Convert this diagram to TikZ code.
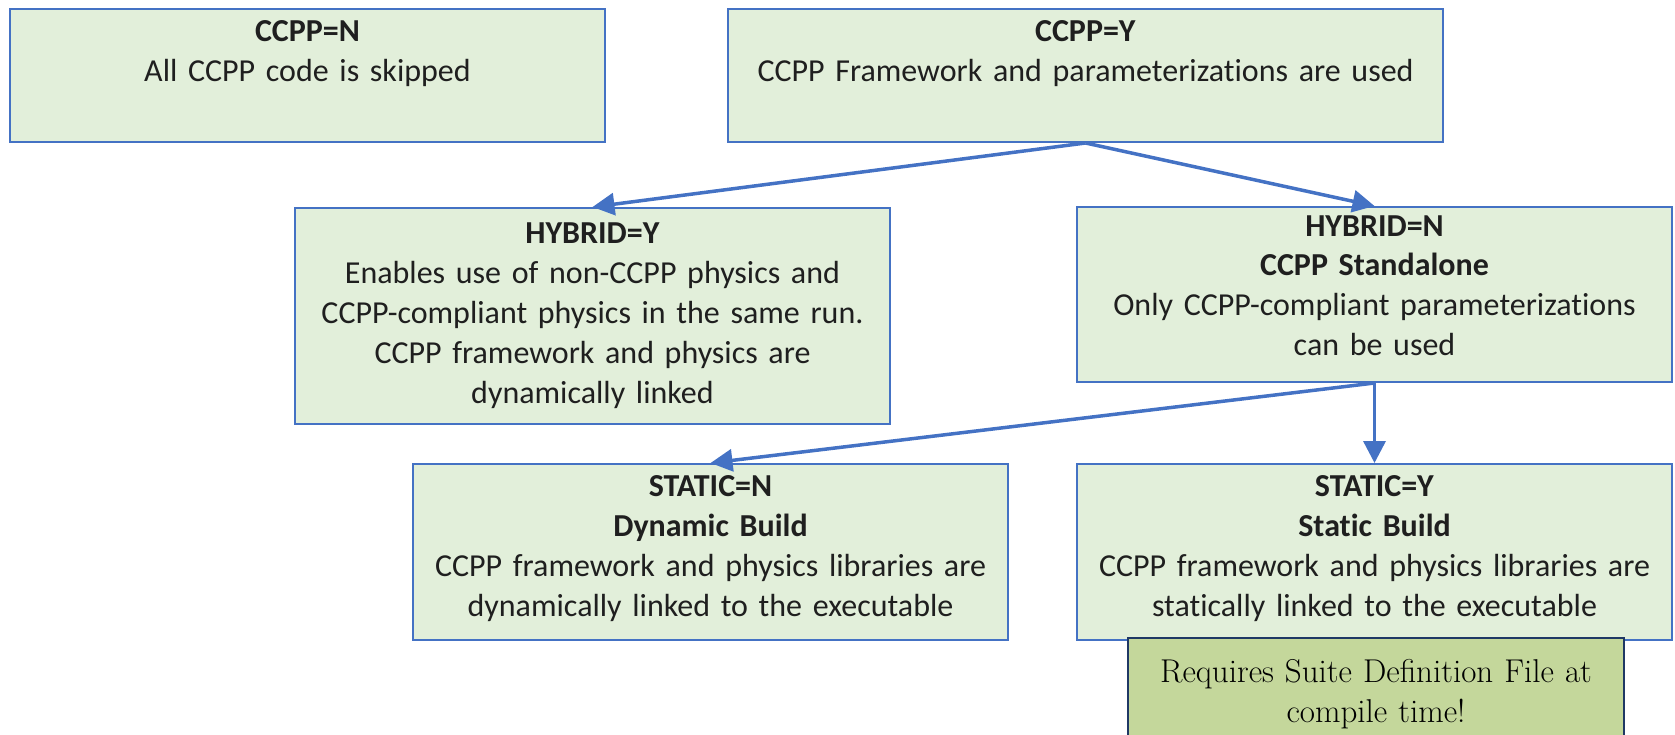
\documentclass[tikz,border=0pt]{standalone}
\usepackage{fontspec}
\usepackage{tikz}
\usetikzlibrary{arrows.meta}
\usepackage{xcolor}

\newfontfamily\boxfont[Ligatures=NoCommon]{Carlito}
\definecolor{boxgreen}{HTML}{E2EFDA}
\definecolor{boxblue}{HTML}{4472C4}
\definecolor{notegreen}{HTML}{C4D79B}
\definecolor{notenavy}{HTML}{1F3864}

% top-aligned lines inside a box of fixed height
\newcommand{\boxtext}[3][33pt]{\parbox[c][#2][t]{\linewidth}{\centering\rule{0pt}{#1}#3}}

\begin{document}
\begin{tikzpicture}[
  x=1pt, y=-1pt,
  arr/.style={-{Triangle[length=22pt, width=22pt]}, line width=3.5pt, draw=boxblue},
  optbox/.style={draw=boxblue, fill=boxgreen, line width=2pt, inner sep=0pt,
    font=\boxfont\fontsize{32}{40}\selectfont, text=black!88},
  notebox/.style={draw=notenavy, fill=notegreen, line width=2.5pt, inner sep=0pt,
    font=\fontsize{33}{40}\selectfont, text=black}
]
\useasboundingbox (0,0) rectangle (1675,735);

% Top row
\node[optbox, text width=595pt, minimum height=133pt] (ccppN) at (307.5,75.5)
  {\boxtext{133pt}{\textbf{CCPP=N}\\All CCPP code is skipped}};
\node[optbox, text width=715pt, minimum height=133pt] (ccppY) at (1085.5,75.5)
  {\boxtext{133pt}{\textbf{CCPP=Y}\\CCPP Framework and parameterizations are used}};

% Second row
\node[optbox, text width=595pt, minimum height=216pt] (hybY) at (592.5,316)
  {\boxtext[35pt]{216pt}{\textbf{HYBRID=Y}\\Enables use of non-CCPP physics and\\CCPP-compliant physics in the same run.\\CCPP framework and physics are\\dynamically linked}};
\node[optbox, text width=595pt, minimum height=175pt] (hybN) at (1374.5,294.5)
  {\boxtext[29pt]{175pt}{\textbf{HYBRID=N}\\\textbf{CCPP Standalone}\\Only CCPP-compliant parameterizations\\can be used}};

% Third row
\node[optbox, text width=595pt, minimum height=176pt] (statN) at (710.5,552)
  {\boxtext[32pt]{176pt}{\textbf{STATIC=N}\\\textbf{Dynamic Build}\\CCPP framework and physics libraries are\\dynamically linked to the executable}};
\node[optbox, text width=595pt, minimum height=176pt] (statY) at (1374.5,552)
  {\boxtext[32pt]{176pt}{\textbf{STATIC=Y}\\\textbf{Static Build}\\CCPP framework and physics libraries are\\statically linked to the executable}};

% Note under the static build
\node[notebox, text width=496pt, minimum height=112pt] (note) at (1376,694)
  {\boxtext[44pt]{112pt}{Requires Suite Definition File at\\compile time!}};

% Arrows
\draw[arr] (ccppY.south) -- (hybY.north);
\draw[arr] (ccppY.south) -- (hybN.north);
\draw[arr] (hybN.south) -- (statN.north);
\draw[arr] (hybN.south) -- (statY.north);

\end{tikzpicture}
\end{document}
